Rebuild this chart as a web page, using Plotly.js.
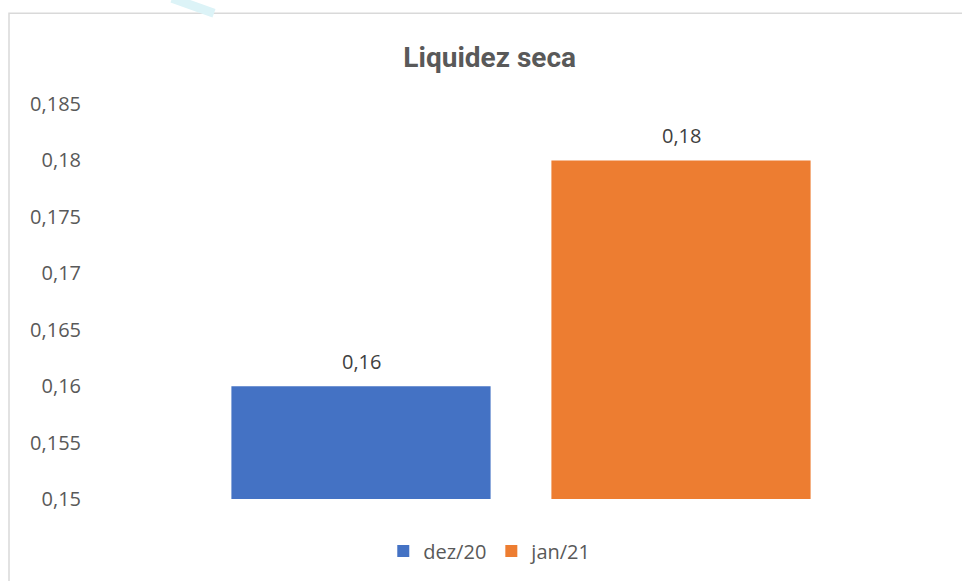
<!DOCTYPE html>
<html>
<head>
<meta charset="utf-8">
<script src="https://cdn.plot.ly/plotly-3.0.1.min.js"></script>
<style>
html,body{margin:0;padding:0;background:#fff;}
#chart{width:962px;height:581px;}
</style>
</head>
<body>
<div id="chart"></div>
<script>
var categories = ["dez/20", "jan/21"];
var values = [0.16, 0.18];
var colors = ["#4472C4", "#ED7D31"];
var tickValues = [0.15, 0.155, 0.16, 0.165, 0.17, 0.175, 0.18, 0.185];
var tickLabels = ["0,15", "0,155", "0,16", "0,165", "0,17", "0,175", "0,18", "0,185"];
var labelTexts = ["0,16", "0,18"];
var chartTitle = "Liquidez seca";

var traces = categories.map(function (c, i) {
  return {
    type: "bar",
    name: c,
    x: [c],
    y: [values[i]],
    marker: { color: colors[i] },
    hoverinfo: "skip"
  };
});

var annotations = categories.map(function (c, i) {
  return {
    x: c, y: values[i], xref: "x", yref: "y",
    text: labelTexts[i], showarrow: false,
    yanchor: "middle", yshift: 25,
    font: { family: "Open Sans", size: 20, color: "#404040" }
  };
});

var layout = {
  width: 962, height: 581,
  margin: { l: 201, r: 121, t: 104, b: 81 },
  paper_bgcolor: "#ffffff",
  plot_bgcolor: "#ffffff",
  barmode: "overlay",
  bargap: 0.19,
  title: {
    text: "<b>" + chartTitle + "</b>",
    xref: "container", x: 0.509, xanchor: "center",
    yref: "container", y: 0.902, yanchor: "middle",
    font: { family: "Roboto", size: 28, color: "#595959" }
  },
  xaxis: {
    type: "category",
    categoryorder: "array",
    categoryarray: categories,
    range: [-0.5, 1.5],
    showticklabels: false,
    showgrid: false, zeroline: false, showline: false, ticks: ""
  },
  yaxis: {
    range: [0.15, 0.185],
    tickvals: tickValues,
    ticktext: tickLabels,
    showgrid: false, zeroline: false, showline: false, ticks: "",
    ticklabelstandoff: 119,
    tickfont: { family: "Open Sans", size: 20, color: "#595959" }
  },
  showlegend: true,
  legend: {
    orientation: "h",
    x: 0.452, xanchor: "center",
    y: -0.129, yanchor: "middle",
    font: { family: "Open Sans", size: 20, color: "#595959" },
    itemclick: false, itemdoubleclick: false,
    tracegroupgap: 0
  },
  annotations: annotations,
  shapes: [
    {
      type: "rect", xref: "paper", yref: "paper",
      x0: -0.3, x1: 1.21, y0: -0.24, y1: 1.2298,
      line: { color: "#d9d9d9", width: 1.5 }, fillcolor: "rgba(0,0,0,0)", layer: "below"
    },
    {
      type: "line", xref: "paper", yref: "paper",
      x0: (172 - 201) / 640, x1: (214 - 201) / 640,
      y0: (500 + 2) / 396, y1: (500 - 13) / 396,
      line: { color: "#dcf3f7", width: 9 }, layer: "below"
    }
  ]
};

Plotly.newPlot("chart", traces, layout, { staticPlot: true, displayModeBar: false });
</script>
</body>
</html>
